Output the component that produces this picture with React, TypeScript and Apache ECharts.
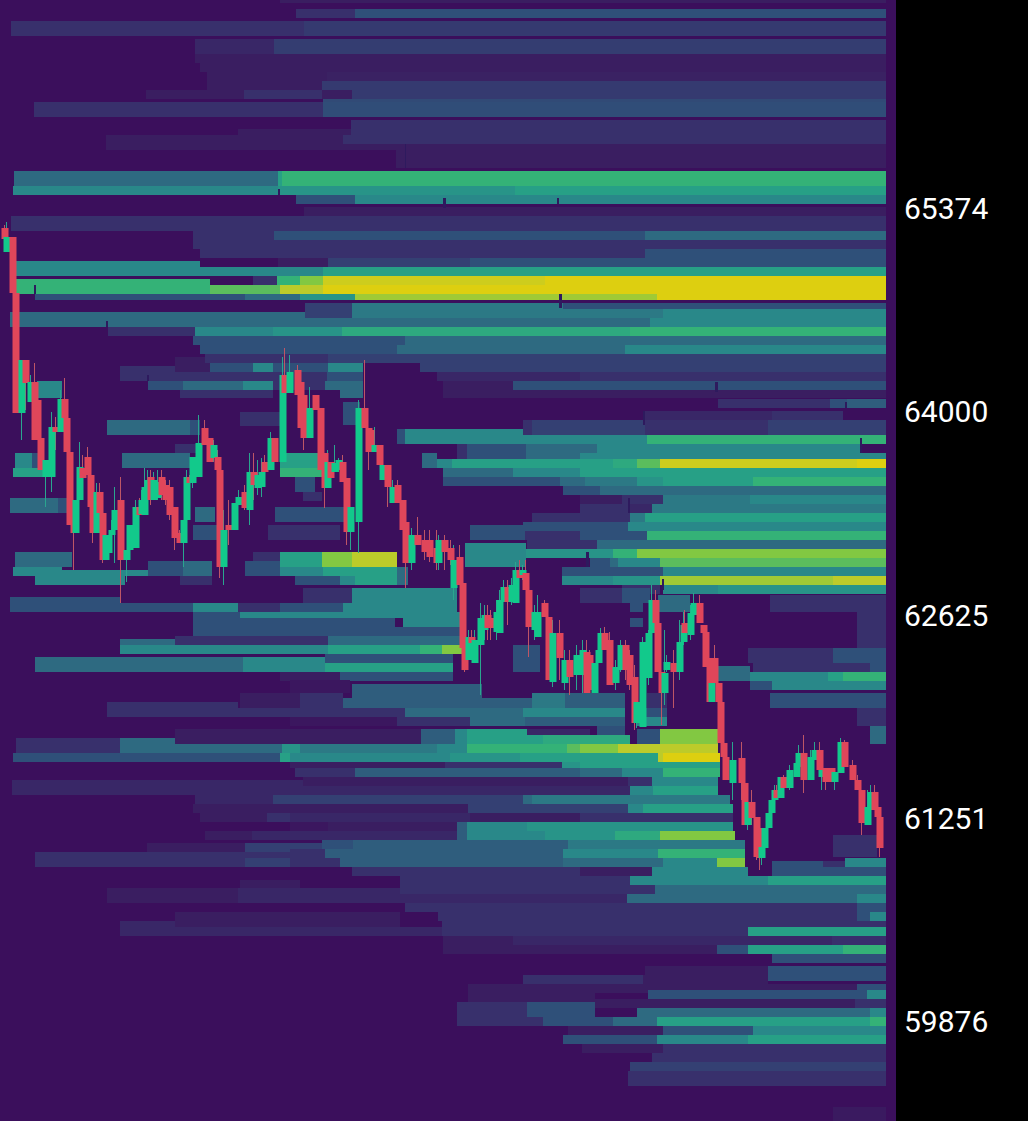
import React, { useEffect, useRef } from "react";
import * as echarts from "echarts";

// Price scale: a "tick" is one step below the top of the visible book.
const TOP_PRICE = 66783;
const TICK_SIZE = 6.7586;
const VISIBLE_TICKS = 1121;
const TIME_SPAN = 896;

const priceLabels = [59876, 61251, 62625, 64000, 65374];

// Liquidity colour levels (0 = nothing drawn, fractions blend neighbours)
const levelColors = ["#3B0F5C", "#3A1E61", "#38306C", "#2F5079", "#2E6A81", "#298889", "#27A086", "#34B277", "#82C842", "#BCCB2A", "#DDCF10"];

// [topTick, bottomTick, time, level, time, level, ..., endTime]
const heatBands: number[][] = [
  [0,3,280,1,886],
  [9,18,296,2,355,3,886],
  [21,36,11,2,304,2.3,886],
  [39,54,195,1.5,274,2.4,886],
  [54,63,195,1,886],
  [63,72,200,1,886],
  [72,81,207,1,327,1.2,886],
  [81,90,207,1,322,2.3,886],
  [90,99,146,1,244,2,322,1,352,2.3,886],
  [99,102,323,2.8,886],
  [102,117,34,2,323,2.9,886],
  [120,135,351,2,886],
  [129,135,238,1,351,0],
  [135,144,238,1,343,2,886],
  [135,150,106,1,238,0],
  [144,150,238,1,405,1,886],
  [150,168,396,1,886],
  [171,186,14,4,278,6,282,7,886],
  [186,195,13,5,278,5.5,515,6,886],
  [195,204,296,3,355,5,886],
  [207,216,304,1,886],
  [216,231,11,2,886],
  [231,240,193,2,274,3,645,4,886],
  [240,249,193,2,886],
  [249,258,200,2,645,3,886],
  [261,267,16,5,200,0],
  [258,267,278,1,328,2.5,470,3,886],
  [267,276,16,5,323,6,886],
  [279,294,16,7,210,0],
  [276,285,253,2,277,7,300,8,323,9.5,545,10,886],
  [285,294,210,7.5,280,9,323,10,886],
  [294,300,35,3,180,3,245,4,300,5.5,355,8.5,657,10,886],
  [312,318,10,4,305,0],
  [303,318,305,2.5,352,0],
  [303,309,352,4.5,563,3,886],
  [309,318,352,4.5,663,5,886],
  [318,327,10,4,650,5,886],
  [327,336,108,2,195,5,273,5.5,342,6.5,630,7,886],
  [336,345,193,3,405,4,886],
  [345,354,200,3,397,4,625,5,886],
  [354,363,205,2,328,2.5,886],
  [357,363,175,1,205,0],
  [363,372,175,1,210,3,253,5,273,3,328,5,363,0,420,2.5,886],
  [366,372,120,2,175,0],
  [372,381,120,2,267,2,327,3,363,0,437,1.5,580,2,886],
  [381,390,37,5,62,0,148,3,183,4,243,5,273,2,325,4,363,0,443,1,513,3,886],
  [390,398,37,5,62,0,180,2,273,0,340,4,363,0,443,1,886],
  [402,425,343,3,360,0],
  [399,408,718,2,830,3,847,3.5,886],
  [411,426,645,1.5,772,2,843,0],
  [420,426,843,2,886],
  [412,426,240,2,280,0],
  [420,435,107,4,190,3,200,0,523,2,532,2.5,645,2,768,2.5,886],
  [429,435,397,3,405,5,523,0],
  [435,444,397,3,405,5,647,7,886],
  [444,453,175,2,197,0,457,2,467,3,526,4,597,5,860,0],
  [453,459,15,5,32,3,40,0,122,4,190,0,280,6,320,0,422,4,437,0,457,2,467,3,526,4,580,5,886],
  [459,468,15,5,32,3,40,0,122,4,190,0,280,6,320,0,422,4,437,5,452,6,613,6.5,637,7.5,660,9.5,857,10,886],
  [468,477,13,6,43,0,280,7,322,0,443,4,513,5,580,6,886],
  [477,492,295,3,315,0],
  [477,486,443,3,560,4,585,4.5,637,5.5,663,6,753,7,886],
  [486,495,563,3,600,4,886],
  [492,501,303,2,322,0],
  [495,504,580,1,622,2,663,4.5,750,5,886],
  [504,513,580,2,628,1.5,652,4.5,886],
  [498,513,10,4,58,3,68,0],
  [507,522,195,4,215,0,275,3,345,0],
  [513,522,532,2,630,4.5,645,6,886],
  [525,540,193,3,217,0,268,2,340,0,470,3,525,0],
  [522,531,523,3,628,5,886],
  [531,540,525,2,580,3,647,7,886],
  [540,549,527,2,597,4,886],
  [543,567,465,5,526,0],
  [549,558,526,5.5,613,7,637,8,886],
  [558,567,590,3,610,4,618,5,660,7.5,886],
  [552,561,15,4,72,0,253,2,280,6,322,8,352,9,397,0],
  [561,567,15,4,72,0,148,3,183,4,212,0,245,3,280,6,322,8,352,9,397,0],
  [567,570,13,5,62,0,148,3,183,4,212,0,245,3,280,5,323,6,397,4,408,0,562,3,663,5,886],
  [570,576,13,5,148,3,183,4,212,0,245,3,280,5,323,6,397,4,408,0,562,3,663,5,886],
  [576,585,35,5,125,0,180,2,212,0,295,3,340,5,355,6,397,4,408,0,562,5,613,5.5,660,8.5,833,9,886],
  [585,594,622,2,660,0,663,5,718,5.5,886],
  [588,603,303,2,352,5,457,0,580,2,622,3,650,0],
  [597,603,10,3,120,0],
  [595,603,658,4,690,0,770,2,886],
  [603,612,10,3,193,5,238,2,280,3,343,5,457,0,630,3,643,0,658,4,690,0,770,2,886],
  [612,618,193,3,240,5,460,0,857,2,886],
  [618,627,193,3,395,0,403,5,460,0,630,3,643,0,857,2,886],
  [627,636,193,3,460,0,857,2,886],
  [636,645,175,2,328,4,460,0,857,2,886],
  [639,645,120,4,175,0],
  [645,654,120,5,328,6,420,7,442,8,463,0,513,3,540,0,857,2,886],
  [648,654,748,2,833,3,886],
  [654,663,325,3,453,0,513,3,540,0,748,2,833,3,886],
  [657,663,35,4,243,5,325,0],
  [663,672,35,4,243,5,325,6,453,0,513,3,540,0,753,2,870,3,886],
  [666,672,718,4,750,0],
  [672,681,280,1,340,3,453,0,718,4,750,5,828,6,843,7,886],
  [681,690,750,3,772,5,886],
  [680,693,290,0.5,350,0],
  [684,698,352,3.5,482,0],
  [693,708,240,1,300,2,343,0],
  [693,698,532,4.5,565,3.5,625,0,647,2,667,0,770,3,886],
  [698,708,343,3.5,532,4.5,565,3.5,625,0,647,2,667,0,770,3,886],
  [702,717,107,2,238,0],
  [708,717,238,2,405,4,523,5,625,0,637,3,667,0,857,2,886],
  [717,726,290,0.5,397,2,470,4,525,3.5,625,0,637,5,667,0,857,2,886],
  [726,735,597,3,625,0,870,4,886],
  [729,735,175,1,421,3.5,455,5,467,6,527,1.5,590,0,637,3,660,8,718,0],
  [735,744,175,1,421,3.5,455,5,467,6,543,6.5,630,0,637,3,660,8,718,0,870,4,886],
  [738,753,16,2,120,4,175,0],
  [744,753,175,4,282,5.5,300,4.5,437,5,467,7,567,7.5,580,8,618,9,718,0],
  [753,762,13,3,280,6,290,5,450,5.5,520,6,658,9,663,10,720,0],
  [762,768,290,1,445,2,562,5.5,580,6,720,0],
  [768,777,295,2,355,3.5,580,4,622,5,663,7,720,0],
  [777,786,303,1,628,2,652,5,718,0],
  [780,795,12,1.5,303,0],
  [786,795,290,1.5,630,5,653,6,718,0],
  [795,804,195,1.5,273,2.5,523,4,532,4.5,730,0],
  [804,813,193,1,468,2.5,628,5,643,6,733,0],
  [813,822,200,1,267,2,290,1.5,470,1,580,2,733,0],
  [822,831,290,0.5,328,1,457,3.5,467,5,527,5.5,733,0],
  [831,840,205,1,252,1.5,457,3.5,467,5,545,5.5,615,6.5,660,8,735,0],
  [835,857,833,2,877,0],
  [840,849,322,3,353,3.5,568,4.5,745,0],
  [843,858,147,1,245,2.5,322,0],
  [849,858,290,2,325,3.5,563,5,658,7,745,0],
  [852,867,35,2,245,2,290,0],
  [858,867,245,2.5,290,2,340,3.5,563,4,663,5,717,8,745,0,845,5,886],
  [861,867,772,3,823,2,845,0],
  [867,876,352,2,580,1,652,5,748,0,772,3,886],
  [876,885,400,2,630,5,768,6,886],
  [880,893,240,1,300,0],
  [888,903,107,1,238,1.5,400,0],
  [885,894,400,2,655,4,886],
  [894,903,400,1.5,627,4,857,5,886],
  [903,912,405,2,857,3,886],
  [912,921,438,2,857,3,870,5,886],
  [912,927,175,1,400,0],
  [921,927,120,1.5,175,0,442,2,886],
  [927,936,120,1.5,442,2,748,6,886],
  [936,945,443,1,513,1.5,832,2,886],
  [945,954,443,1,717,3,748,6,843,7,886],
  [954,963,772,3,886],
  [975,984,523,2,643,1,768,0],
  [966,981,645,1,768,3,886],
  [984,993,468,1,645,1,857,3,886],
  [990,999,648,3,867,5,886],
  [993,1002,468,1,595,0],
  [999,1008,595,1,855,2,886],
  [1002,1017,457,2,527,3,595,0],
  [1008,1017,637,4,870,5,886],
  [1017,1026,457,2,543,3,613,4,657,6,870,7,886],
  [1026,1035,568,1,663,3,753,5,886],
  [1035,1044,563,3,657,5,748,6,886],
  [1044,1053,582,1,663,2,886],
  [1053,1062,652,2,886],
  [1062,1071,630,2.5,886],
  [1071,1086,628,2,886],
  [1107,1121,833,0.7,886],
];

// short holes in the book: [topTick, bottomTick, startTime, endTime]
const bookGaps: number[][] = [
  [189,195,278,280],[198,208,443,446],[198,204,557,559],[294,308,559,562],[285,294,34,36],[321,327,106,108],
  [375,381,147,149],[382,392,715,718],[402,408,845,847],[438,453,860,862],[411,425,643,645],[498,513,628,630],
  [552,567,586,589],[579,590,662,664],[144,168,405,406],
];

// [time, open, close, high, low] in ticks below TOP_PRICE
const candleTicks: number[][] = [
  [5,228,239,225,239],[7,252,237,222,252],[13,237,293,237,293],[16,293,413,293,413],[22,413,360,360,440],[26,360,383,360,410],
  [31,402,382,375,402],[35,382,440,363,440],[38,400,440,400,440],[41,438,470,438,470],[46,477,460,460,507],[52,477,427,412,492],[56,427,432,417,450],
  [61,432,399,390,432],[65,399,418,378,418],[67,418,452,418,452],[70,452,525,452,525],[74,525,533,525,570],[76,533,500,500,533],
  [80,500,467,442,500],[83,468,478,455,478],[88,457,475,447,475],[91,475,507,475,507],[93,507,533,507,543],[97,533,492,483,533],[100,492,513,483,513],
  [103,513,560,513,563],[106,560,535,535,560],[109,553,535,535,553],[112,535,530,520,538],[115,530,510,487,563],[121,500,560,477,603],[127,560,550,550,582],
  [130,550,525,525,550],[133,548,525,525,550],[136,548,507,500,548],[140,507,515,498,515],[142,514,500,490,514],[145,515,487,468,515],[148,500,480,470,500],[151,477,500,470,505],[154,500,480,472,500],
  [158,498,482,470,500],[162,477,495,470,500],[166,485,500,480,505],[170,487,515,480,520],[175,507,538,507,550],[180,533,543,530,543],[184,543,520,520,567],[187,520,477,470,520],
  [190,477,483,475,485],[193,483,457,457,488],[199,477,443,415,477],[205,428,445,420,445],[210,438,462,438,462],[214,458,445,440,462],[218,457,470,450,470],
  [220,470,567,470,578],[224,567,530,510,585],[229,525,530,500,545],[235,530,503,503,530],[239,505,497,490,505],[245,492,508,485,510],
  [250,510,472,453,525],[254,472,485,453,500],[258,488,475,460,495],[262,487,472,458,497],[265,462,472,455,472],[271,470,438,432,470],[275,438,462,438,462],
  [283,462,375,357,462],[285,375,393,348,393],[290,393,372,355,393],[298,370,395,365,395],[301,382,428,382,428],[304,395,438,395,450],
  [310,438,408,387,438],[316,395,410,395,410],[321,408,470,408,470],[325,453,488,453,508],[328,488,462,450,488],[331,462,478,462,478],
  [335,472,463,445,472],[339,470,460,458,472],[343,462,482,455,482],[347,478,532,478,545],[351,532,507,507,550],[359,522,408,400,553],[365,408,428,360,428],
  [369,428,452,428,470],[371,430,452,430,452],[375,452,445,427,452],[380,445,465,445,465],[383,480,465,465,480],[388,465,487,465,507],
  [393,503,487,480,503],[398,485,503,480,503],[403,500,530,500,530],[406,522,563,522,588],[412,563,535,528,570],[418,535,545,517,545],
  [425,540,552,530,560],[430,540,557,530,562],[437,548,563,530,570],[439,563,540,535,570],[445,540,552,535,570],[451,548,560,540,565],
  [454,588,560,545,600],[460,557,585,545,585],[463,583,648,583,648],[465,645,670,645,672],[469,660,637,630,660],[472,637,643,630,645],
  [475,663,640,630,663],[481,645,618,603,695],[485,630,615,605,640],[488,615,628,605,640],[491,618,628,610,640],[497,632,612,600,640],[500,633,600,590,633],[504,602,587,580,602],[508,587,602,580,625],
  [512,602,585,578,605],[516,603,570,562,603],[520,570,578,560,578],[523,575,570,565,580],[526,573,590,560,590],[529,590,627,590,657],[535,630,612,605,640],[538,637,612,595,637],[545,603,617,600,617],
  [549,617,680,617,680],[553,682,633,620,687],[560,633,658,620,680],[565,683,660,650,690],[570,660,677,650,695],[577,675,655,645,690],[583,675,650,640,693],
  [587,652,693,640,693],[590,655,690,650,693],[595,693,663,663,693],[599,663,650,645,663],[601,650,633,628,650],[605,633,650,627,650],[610,640,685,632,685],
  [616,683,667,660,690],[621,670,645,640,672],[626,645,670,640,680],[630,655,685,650,690],[635,677,723,665,730],[637,723,702,702,728],
  [643,727,642,637,727],[649,678,633,630,685],[652,633,600,585,633],[656,600,623,590,623],[658,623,672,623,672],[662,672,693,672,725],
  [665,693,673,630,705],[667,670,662,655,672],[674,663,672,650,708],[680,672,642,620,680],[684,642,625,612,645],[685,623,633,610,640],
  [691,635,613,605,640],[694,615,603,593,620],[700,603,623,595,623],[704,625,633,625,633],[706,632,667,632,667],[710,658,702,658,702],
  [712,702,683,683,702],[715,658,683,645,683],[719,683,702,683,702],[721,702,743,702,743],[724,743,757,743,757],[726,757,780,757,780],
  [733,783,760,742,800],[742,758,783,742,800],[745,783,825,783,825],[748,825,802,800,830],[752,802,818,790,825],[757,817,857,817,860],
  [760,828,858,828,870],[762,858,847,847,865],[765,848,828,828,850],[769,828,813,813,828],[772,813,800,800,813],[775,800,790,785,800],
  [777,790,798,785,798],[781,798,777,777,798],[784,777,788,775,788],[790,788,770,765,790],[797,777,763,763,777],[799,767,753,745,767],
  [804,753,780,735,793],[811,780,757,750,780],[815,760,750,742,760],[820,750,770,742,770],[822,777,770,770,790],[826,768,782,768,790],
  [832,768,782,768,782],[835,782,772,772,790],[841,773,742,738,773],[845,742,767,740,767],[853,765,780,760,780],[858,780,790,775,790],
  [862,790,823,790,835],[868,825,807,790,825],[871,810,792,785,810],[875,792,810,785,810],[878,807,817,807,817],[880,817,848,817,857],
];

const toPrice = (tick: number) => TOP_PRICE - tick * TICK_SIZE;

function levelColor(level: number): string {
  const low = Math.floor(level);
  if (low >= levelColors.length - 1) return levelColors[levelColors.length - 1];
  return echarts.color.lerp(level - low, [levelColors[low], levelColors[low + 1]]) as string;
}

function buildHeat() {
  const out: number[][] = [];
  for (const band of heatBands) {
    const [top, bottom, ...stops] = band;
    for (let i = 0; i + 2 < stops.length; i += 2) {
      if (stops[i + 1] > 0) out.push([stops[i], stops[i + 2], toPrice(top), toPrice(bottom), stops[i + 1]]);
    }
  }
  for (const [top, bottom, start, end] of bookGaps) {
    out.push([start, end, toPrice(top), toPrice(bottom), -1]);
  }
  return out;
}

export default function App() {
  const ref = useRef<HTMLDivElement>(null);
  useEffect(() => {
    document.body.style.margin = "0";
    document.body.style.background = "#000";
    document.documentElement.style.overflow = "hidden";
    const chart = echarts.init(ref.current!, undefined, { renderer: "svg" });
    const candleData = candleTicks.map(([t, o, c, h, l]) => [t, toPrice(o), toPrice(c), toPrice(l), toPrice(h)]);
    chart.setOption({
      animation: false,
      backgroundColor: "#000000",
      grid: { left: 0, right: 1028 - TIME_SPAN, top: 0, bottom: 0, show: true, backgroundColor: levelColors[0], borderWidth: 0 },
      xAxis: { type: "value", min: 0, max: TIME_SPAN, show: false },
      yAxis: {
        type: "value",
        position: "right",
        min: toPrice(VISIBLE_TICKS),
        max: TOP_PRICE,
        axisLine: { show: false },
        axisTick: { show: false },
        splitLine: { show: false },
        axisLabel: {
          customValues: priceLabels,
          formatter: (v: number) => String(Math.round(v)),
          color: "#ffffff",
          fontFamily: "Roboto",
          fontSize: 30,
          margin: 8,
        },
      },
      series: [
        {
          type: "custom",
          coordinateSystem: "cartesian2d",
          encode: { x: [0, 1], y: [2, 3] },
          clip: true,
          silent: true,
          data: buildHeat(),
          renderItem: (_p: any, api: any) => {
            const a = api.coord([api.value(0), api.value(2)]);
            const b = api.coord([api.value(1), api.value(3)]);
            const lvl = api.value(4);
            return {
              type: "rect",
              shape: { x: a[0], y: a[1], width: b[0] - a[0], height: b[1] - a[1] },
              style: { fill: lvl < 0 ? "#2E1A5E" : levelColor(lvl) },
            };
          },
        },
        {
          // wicks
          type: "candlestick",
          barWidth: 1,
          encode: { x: 0, y: [1, 2, 3, 4] },
          data: candleData,
          itemStyle: { color: "#2AA58F", color0: "#BE5566", borderColor: "#2AA58F", borderColor0: "#BE5566", borderWidth: 1 },
          z: 4,
        },
        {
          // bodies
          type: "candlestick",
          barWidth: 7,
          encode: { x: 0, y: [1, 2, 3, 4] },
          data: candleData,
          itemStyle: { color: "#12C98B", color0: "#E0465A", borderColor: "#12C98B", borderColor0: "#E0465A", borderWidth: 0 },
          z: 5,
        },
      ],
    });
    return () => chart.dispose();
  }, []);
  return <div ref={ref} style={{ width: 1028, height: 1121, display: "block" }} />;
}
